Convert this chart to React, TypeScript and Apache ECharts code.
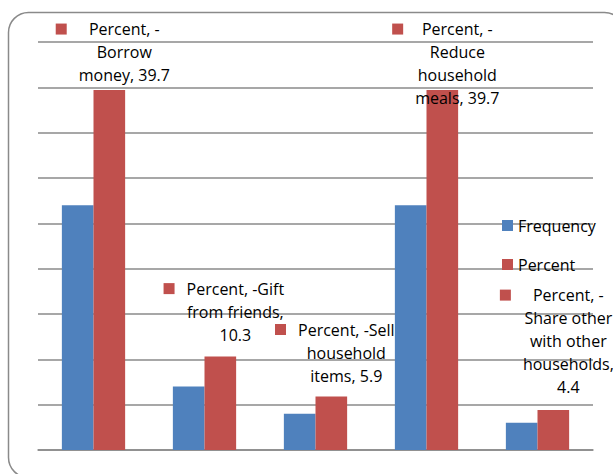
import React, { useEffect, useRef } from "react";
import * as echarts from "echarts";

// Coping strategies: count of households and share of total (%)
const categories = [
  "-Borrow money",
  "-Gift from friends",
  "-Sell household items",
  "-Reduce household meals",
  "-Share other with other households",
];
const frequency = [27, 7, 4, 27, 3];
const percent = [39.7, 10.3, 5.9, 39.7, 4.4];

const BLUE = "#4F81BD";
const RED = "#C0504D";
const FONT = "Open Sans";
const FONT_SIZE = 16;
const WRAP_WIDTH = 106;

// label nudges [dx, dy] from the top-centre of each Percent bar
const labelNudge: [number, number][] = [
  [15, 1.5],
  [15, -5.5],
  [15, -4.5],
  [15, 24.5],
  [15, -6.5],
];

let measureCtx: CanvasRenderingContext2D | null = null;
function textWidth(s: string): number {
  if (!measureCtx) {
    measureCtx = document.createElement("canvas").getContext("2d");
  }
  if (!measureCtx) return s.length * 8;
  measureCtx.font = `${FONT_SIZE}px "${FONT}"`;
  return measureCtx.measureText(s).width;
}

// split into pieces that may break after spaces or after a leading hyphen
function wrapText(text: string, maxWidth: number): string[] {
  const pieces: { t: string; sep: string }[] = [];
  text.split(" ").forEach((w, i, arr) => {
    const sep = i < arr.length - 1 ? " " : "";
    if (w.startsWith("-") && w.length > 1) {
      pieces.push({ t: "-", sep: "" });
      pieces.push({ t: w.slice(1), sep });
    } else {
      pieces.push({ t: w, sep });
    }
  });
  const lines: string[] = [];
  let line = "";
  let pendingSep = "";
  pieces.forEach((p) => {
    const cand = line ? line + pendingSep + p.t : p.t;
    if (line && textWidth(cand) > maxWidth) {
      lines.push(line);
      line = p.t;
    } else {
      line = cand;
    }
    pendingSep = p.sep;
  });
  if (line) lines.push(line);
  return lines;
}

export default function App() {
  const ref = useRef<HTMLDivElement>(null);

  useEffect(() => {
    if (!ref.current) return;
    const chart = echarts.init(ref.current, null, { renderer: "svg" });

    const labelRich = {
      k: { width: 11, height: 11, backgroundColor: RED, align: "left", lineHeight: 23 },
      g: { width: 12, height: 11, align: "left", lineHeight: 23 },
      l: { width: 23, height: 11, align: "left", lineHeight: 23 },
      r: { width: 23, height: 11, align: "right", lineHeight: 23 },
      t: {
        fontFamily: FONT,
        fontSize: FONT_SIZE,
        color: "#000",
        align: "center",
        lineHeight: 23,
      },
    };

    const option = {
      animation: false,
      textStyle: { fontFamily: FONT },
      graphic: [
        {
          type: "rect",
          shape: { x: 8.5, y: 12.5, width: 616, height: 465, r: 20 },
          style: { fill: "none", stroke: "#8a8a8a", lineWidth: 1.5 },
          silent: true,
          z: 0,
        },
      ],
      grid: { left: 38, right: 20, top: 42, bottom: 24, containLabel: false },
      legend: {
        orient: "vertical",
        left: 502,
        top: 217,
        padding: 0,
        itemWidth: 11,
        itemHeight: 11,
        itemGap: 22,
        icon: "rect",
        textStyle: { fontFamily: FONT, fontSize: FONT_SIZE, color: "#000", lineHeight: 17 },
        data: ["Frequency", "Percent"],
      },
      xAxis: {
        type: "category",
        data: categories,
        axisLine: { lineStyle: { color: "#8a8a8a", width: 1.5 } },
        axisTick: { show: false },
        axisLabel: { show: false },
      },
      yAxis: {
        type: "value",
        min: 0,
        max: 45,
        interval: 5,
        axisLine: { show: false },
        axisTick: { show: false },
        axisLabel: { show: false },
        splitLine: { lineStyle: { color: "#8a8a8a", width: 1.5 } },
      },
      series: [
        {
          name: "Frequency",
          type: "bar",
          data: frequency,
          barGap: "0%",
          barCategoryGap: "43%",
          itemStyle: { color: BLUE },
        },
        {
          name: "Percent",
          type: "bar",
          data: percent.map((v, i) => ({
            value: v,
            label: { offset: labelNudge[i] },
          })),
          barGap: "0%",
          barCategoryGap: "43%",
          itemStyle: { color: RED },
          label: {
            show: true,
            position: "top",
            distance: 5,
            rich: labelRich,
            formatter: (p: any) => {
              const full = `${p.seriesName}, ${p.name}, ${p.value}`;
              const lines = wrapText(full, WRAP_WIDTH);
              return lines
                .map((ln, i) =>
                  i === 0 ? `{k|}{g|}{t|${ln}}{r|}` : `{l|}{t|${ln}}{r|}`
                )
                .join("\n");
            },
          },
        },
      ],
    };

    chart.setOption(option as any);
    return () => chart.dispose();
  }, []);

  return (
    <div
      ref={ref}
      style={{ position: "fixed", left: 0, top: 0, width: 613, height: 474, background: "#fff" }}
    />
  );
}
